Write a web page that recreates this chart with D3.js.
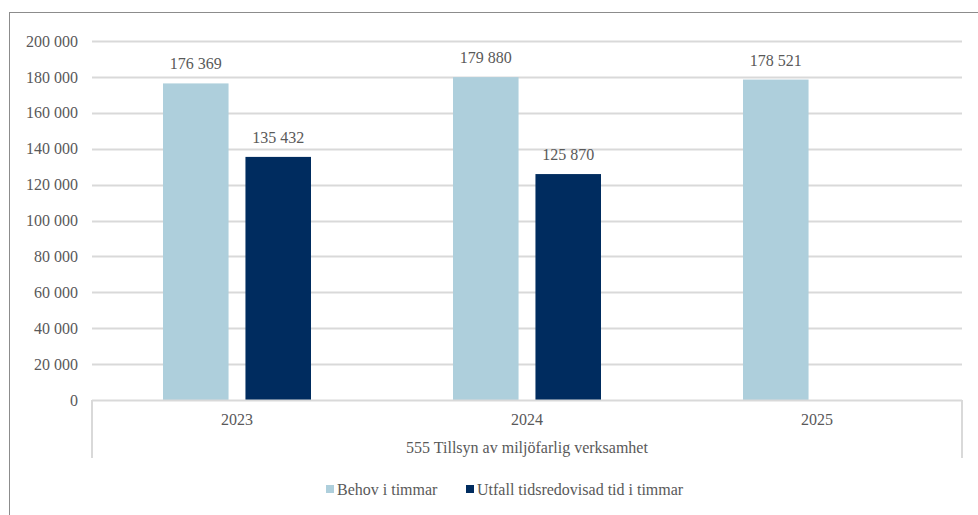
<!DOCTYPE html>
<html>
<head>
<meta charset="utf-8">
<script src="https://cdn.jsdelivr.net/npm/d3@7"></script>
<style>
  body { margin: 0; background: #fff; }
</style>
</head>
<body>
<div class="container"></div>
<script>
const years = ['2023', '2024', '2025'];
const groupLabel = '555 Tillsyn av miljöfarlig verksamhet';
const seriesNames = ['Behov i timmar', 'Utfall tidsredovisad tid i timmar'];
const behov = [176369, 179880, 178521];
const utfall = [135432, 125870, null];
const yTicks = [0, 20000, 40000, 60000, 80000, 100000, 120000, 140000, 160000, 180000, 200000];
const colors = ['#aecfdc', '#002c5f'];

const width = 978;
const height = 515;
const plot = { left: 92, right: 962, top: 41, bottom: 400 };
const font = "'Liberation Serif'";
const fontSize = 16;
const textColor = '#595959';

const fmt = v => d3.format(',')(v).replace(/,/g, ' ');

const svg = d3.select('.container')
  .append('svg')
  .attr('width', width)
  .attr('height', height);

const label = sel => sel
  .attr('font-family', font)
  .attr('font-size', fontSize)
  .attr('fill', textColor);

// outer frame
svg.append('rect')
  .attr('x', 9.5).attr('y', 12.5)
  .attr('width', width).attr('height', height)
  .attr('fill', 'none')
  .attr('stroke', '#8c8c8c');

const x = d3.scaleBand().domain(years).range([plot.left, plot.right]);
const x1 = d3.scaleBand().domain([0, 1]).range([0, 148]).paddingInner(0.205);
const y = d3.scaleLinear().domain([0, 200000]).range([plot.bottom, plot.top]);

// grid
svg.append('g')
  .selectAll('line')
  .data(yTicks.filter(d => d > 0))
  .enter()
  .append('line')
  .attr('x1', plot.left).attr('x2', plot.right)
  .attr('y1', d => Math.round(y(d)) + 0.5).attr('y2', d => Math.round(y(d)) + 0.5)
  .attr('stroke', '#d9d9d9')
  .attr('stroke-width', 2);

// y labels
svg.append('g')
  .selectAll('text')
  .data(yTicks)
  .enter()
  .append('text')
  .call(label)
  .attr('x', 78)
  .attr('y', d => y(d))
  .attr('dy', '0.35em')
  .attr('text-anchor', 'end')
  .text(fmt);

// bars
const series = [behov, utfall];
series.forEach((vals, si) => {
  const g = svg.append('g');
  const pts = vals.map((v, i) => ({ v, year: years[i] })).filter(d => d.v != null);
  const bx = d => x(d.year) + (x.bandwidth() - 148) / 2 + x1(si);
  g.selectAll('rect')
    .data(pts)
    .enter()
    .append('rect')
    .attr('x', bx)
    .attr('y', d => y(d.v))
    .attr('width', x1.bandwidth())
    .attr('height', d => plot.bottom - y(d.v))
    .attr('fill', colors[si]);
  g.selectAll('text')
    .data(pts)
    .enter()
    .append('text')
    .call(label)
    .attr('x', d => bx(d) + x1.bandwidth() / 2)
    .attr('y', d => y(d.v) - 14)
    .attr('text-anchor', 'middle')
    .text(d => fmt(d.v));
});

// category axis
const axis = svg.append('g').attr('stroke', '#d9d9d9').attr('stroke-width', 2);
axis.append('line')
  .attr('x1', plot.left).attr('x2', plot.right)
  .attr('y1', plot.bottom + 0.5).attr('y2', plot.bottom + 0.5);
[plot.left, plot.right].forEach(px => {
  axis.append('line')
    .attr('x1', px).attr('x2', px)
    .attr('y1', plot.bottom).attr('y2', 458);
});

svg.append('g')
  .selectAll('text')
  .data(years)
  .enter()
  .append('text')
  .call(label)
  .attr('x', d => x(d) + x.bandwidth() / 2)
  .attr('y', 419)
  .attr('dy', '0.35em')
  .attr('text-anchor', 'middle')
  .text(d => d);

svg.append('text')
  .call(label)
  .attr('x', (plot.left + plot.right) / 2)
  .attr('y', 447)
  .attr('dy', '0.35em')
  .attr('text-anchor', 'middle')
  .text(groupLabel);

// legend
const legendX = [326, 466];
const legend = svg.append('g')
  .selectAll('g')
  .data(seriesNames)
  .enter()
  .append('g')
  .attr('transform', (d, i) => `translate(${legendX[i]}, 489)`);
legend.append('rect')
  .attr('x', 0).attr('y', -4)
  .attr('width', 8).attr('height', 8)
  .attr('fill', (d, i) => colors[i]);
legend.append('text')
  .call(label)
  .attr('x', 11)
  .attr('dy', '0.35em')
  .text(d => d);
</script>
</body>
</html>
